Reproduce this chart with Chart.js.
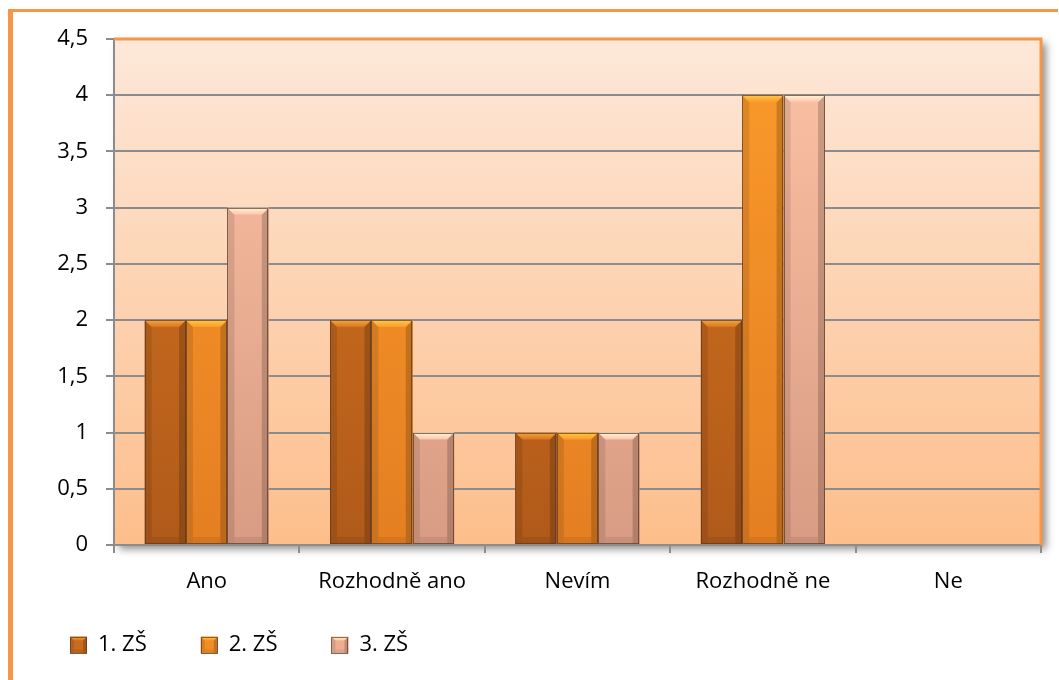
<!DOCTYPE html>
<html><head><meta charset="utf-8">
<script src="https://cdn.jsdelivr.net/npm/chart.js@4/dist/chart.umd.min.js"></script>
<style>html,body{margin:0;padding:0;background:#fff;overflow:hidden}</style>
</head><body>
<canvas id="c" width="1059" height="680" style="width:1059px;height:680px;display:block"></canvas>
<script>
const categories = ['Ano', 'Rozhodně ano', 'Nevím', 'Rozhodně ne', 'Ne'];
const seriesNames = ['1. ZŠ', '2. ZŠ', '3. ZŠ'];
const series1 = [2, 2, 1, 2, 0];
const series2 = [2, 2, 1, 4, 0];
const series3 = [3, 1, 1, 4, 0];
const yMin = 0, yMax = 4.5, yStep = 0.5;

const FONT = '"Open Sans", "Noto Sans", sans-serif';
const palette = [
  {top: '#D8751F', bottom: '#B05A1A', solid: '#C96A1F', bevel: '#F3A640'},
  {top: '#FA9A2A', bottom: '#E47F22', solid: '#F28D26', bevel: '#FFC944'},
  {top: '#FDC3A5', bottom: '#D89B83', solid: '#EDAE92', bevel: '#FFF5DC'}
];

function gradFill(i) {
  return (ctx) => {
    const chart = ctx.chart, a = chart.chartArea;
    if (!a || ctx.type !== 'data') return palette[i].solid;
    const g = chart.ctx.createLinearGradient(0, a.top, 0, a.bottom);
    g.addColorStop(0, palette[i].top);
    g.addColorStop(1, palette[i].bottom);
    return g;
  };
}

function drawBevelBox(c, l, t, r, b, di, bv) {
  c.fillStyle = 'rgba(0,0,0,0.10)';
  c.beginPath(); c.moveTo(l, t); c.lineTo(l + bv, t + bv); c.lineTo(l + bv, b); c.lineTo(l, b); c.closePath(); c.fill();
  c.fillStyle = 'rgba(0,0,0,0.18)';
  c.beginPath(); c.moveTo(r, t); c.lineTo(r - bv, t + bv); c.lineTo(r - bv, b); c.lineTo(r, b); c.closePath(); c.fill();
  c.fillStyle = 'rgba(0,0,0,0.07)';
  c.beginPath(); c.moveTo(l + bv, b - bv); c.lineTo(r - bv, b - bv); c.lineTo(r - bv, b); c.lineTo(l + bv, b); c.closePath(); c.fill();
  const tg = c.createLinearGradient(0, t, 0, t + bv);
  tg.addColorStop(0, palette[di].bevel);
  tg.addColorStop(1, palette[di].top);
  c.fillStyle = tg;
  c.beginPath(); c.moveTo(l, t); c.lineTo(r, t); c.lineTo(r - bv, t + bv); c.lineTo(l + bv, t + bv); c.closePath(); c.fill();
  c.strokeStyle = 'rgba(90,55,35,0.7)';
  c.lineWidth = 1;
  c.strokeRect(Math.round(l) + 0.5, Math.round(t) + 0.5, Math.round(r - l) - 1, Math.round(b - t) - 1);
}

const framePlugin = {
  id: 'frame',
  beforeDraw(chart) {
    const c = chart.ctx, a = chart.chartArea;
    c.save();
    c.fillStyle = '#ffffff';
    c.fillRect(0, 0, chart.width, chart.height);
    c.fillStyle = '#F79646';
    c.fillRect(8, 9, 5, chart.height - 9);
    c.fillRect(8, 9, 1050, 3);
    c.shadowColor = 'rgba(0,0,0,0.45)';
    c.shadowBlur = 8;
    c.shadowOffsetX = 5;
    c.shadowOffsetY = 4;
    const g = c.createLinearGradient(0, a.top, 0, a.bottom);
    g.addColorStop(0, '#FDE8D9');
    g.addColorStop(1, '#FDBE8B');
    c.fillStyle = g;
    c.fillRect(a.left, a.top, a.right - a.left, a.bottom - a.top);
    c.restore();
  },
  afterDatasetsDraw(chart) {
    const c = chart.ctx, a = chart.chartArea;
    c.save();
    chart.data.datasets.forEach((ds, di) => {
      const meta = chart.getDatasetMeta(di);
      meta.data.forEach((el) => {
        const p = el.getProps(['x', 'y', 'base', 'width'], true);
        const l = p.x - p.width / 2, r = p.x + p.width / 2;
        const t = Math.min(p.y, p.base), b = Math.max(p.y, p.base);
        if (b - t < 1) return;
        drawBevelBox(c, l, t, r, b, di, 7);
      });
    });
    c.strokeStyle = '#F79646';
    c.lineWidth = 3;
    c.beginPath();
    c.moveTo(a.left, a.top);
    c.lineTo(a.right, a.top);
    c.lineTo(a.right, a.bottom);
    c.stroke();
    c.restore();
  },
  afterDraw(chart) {
    const lg = chart.legend;
    if (!lg || !lg.legendHitBoxes) return;
    const c = chart.ctx;
    c.save();
    lg.legendHitBoxes.forEach((hb, i) => {
      const bw = 17, bh = 17;
      const l = hb.left, t = hb.top + (hb.height - bh) / 2;
      drawBevelBox(c, l, t, l + bw, t + bh, i, 4);
    });
    c.restore();
  }
};

new Chart(document.getElementById('c'), {
  type: 'bar',
  data: {
    labels: categories,
    datasets: [
      {label: seriesNames[0], data: series1, backgroundColor: gradFill(0), borderWidth: 0},
      {label: seriesNames[1], data: series2, backgroundColor: gradFill(1), borderWidth: 0},
      {label: seriesNames[2], data: series3, backgroundColor: gradFill(2), borderWidth: 0}
    ]
  },
  options: {
    responsive: false,
    animation: false,
    devicePixelRatio: 1,
    categoryPercentage: 0.67,
    barPercentage: 1.0,
    layout: {padding: {left: 16, right: 18, top: 39, bottom: 14}},
    plugins: {
      tooltip: {enabled: false},
      legend: {
        position: 'bottom',
        align: 'start',
        labels: {
          boxWidth: 17,
          boxHeight: 17,
          padding: 54,
          color: '#000',
          font: {family: FONT, size: 22},
          generateLabels(chart) {
            const items = Chart.defaults.plugins.legend.labels.generateLabels(chart);
            items.forEach((it, i) => {
              it.fillStyle = palette[i].solid;
              it.strokeStyle = 'rgba(90,55,35,0.7)';
              it.lineWidth = 0;
            });
            return items;
          }
        }
      }
    },
    scales: {
      x: {
        afterFit(s) { s.height = 35; s._computeLabelArea = () => undefined; },
        grid: {display: true, drawOnChartArea: false, drawTicks: true, tickLength: 8, color: '#8C8C8C', lineWidth: 2, offset: true},
        border: {display: true, color: '#8C8C8C', width: 2},
        ticks: {color: '#000', font: {family: FONT, size: 22}, padding: 16, maxRotation: 0, autoSkip: false}
      },
      y: {
        min: yMin, max: yMax,
        afterFit(s) { s.width = 98; },
        grid: {color: '#8C8C8C', lineWidth: 2, tickLength: 8, drawTicks: true},
        border: {display: true, color: '#8C8C8C', width: 2},
        ticks: {
          stepSize: yStep,
          color: '#000',
          font: {family: FONT, size: 22},
          padding: 18,
          callback: (v) => String(v).replace('.', ',')
        }
      }
    }
  },
  plugins: [framePlugin]
});
</script>
</body></html>
